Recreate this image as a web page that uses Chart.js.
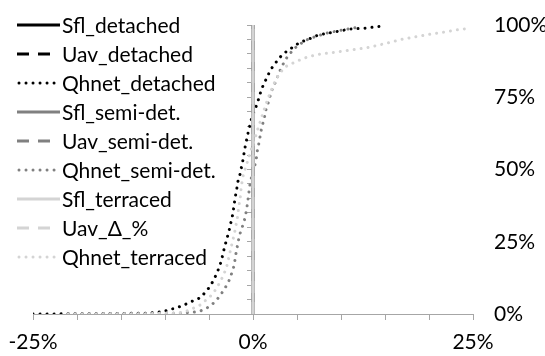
<!DOCTYPE html>
<html>
<head>
<meta charset="utf-8">
<script src="https://cdn.jsdelivr.net/npm/chart.js@4.4.1/dist/chart.umd.min.js"></script>
<style>
  html, body { margin: 0; padding: 0; background: #fff; }
  #wrap { width: 545px; height: 356px; }
</style>
</head>
<body>
<div id="wrap"><canvas id="c" width="545" height="356"></canvas></div>
<script>
// ---- data (x = Δ %, y = cumulative share %) ----
const seriesLabels = ['Sfl_detached', 'Uav_detached', 'Qhnet_detached',
  'Sfl_semi-det.', 'Uav_semi-det.', 'Qhnet_semi-det.',
  'Sfl_terraced', 'Uav_Δ_%', 'Qhnet_terraced'];

// Sfl and Uav series: zero difference everywhere (vertical line at 0)
const zeroX = [0, 0];
const zeroY = [0, 100];

const qhnetDetachedX = [-25, -18, -12, -10.2, -9.6, -8.86, -8.1, -7.42, -6.78, -6.0, -5.45, -4.97, -4.51, -4.17, -3.86, -3.6, -3.41, -3.22, -2.99, -2.76, -2.58, -2.39, -2.24, -2.13, -2.01, -1.85, -1.74, -1.5, -1.14, -0.88, -0.53, -0.15, 0.49, 0.94, 1.25, 1.63, 1.97, 2.47, 2.95, 3.52, 4.2, 4.85, 5.53, 6.25, 7.39, 9.43, 11.0, 12.7, 14.35];
const qhnetDetachedY = [0, 0.1, 0.3, 0.8, 1.4, 2.0, 2.8, 3.7, 4.6, 5.6, 7.4, 9.2, 11.5, 13.7, 16.0, 18.3, 20.9, 23.3, 25.8, 28.3, 30.8, 33.1, 35.7, 38.2, 40.6, 43.1, 45.6, 48.0, 53.3, 58.1, 63.1, 67.8, 72.9, 77.5, 79.8, 82.1, 84.4, 86.5, 88.5, 90.2, 91.6, 93.1, 94.2, 95.0, 96.5, 97.7, 98.6, 98.9, 99.5];

const qhnetSemiX = [-21, -12, -8.5, -6.78, -6.0, -5.26, -4.51, -4.06, -3.56, -3.1, -2.73, -2.42, -2.16, -1.93, -1.59, -1.36, -1.06, -0.88, -0.72, -0.6, -0.49, -0.4, -0.25, 0.2, 0.38, 0.49, 0.65, 0.8, 0.94, 1.14, 1.33, 1.48, 1.67, 1.82, 2.08, 2.27, 2.65, 2.92, 3.33, 3.64, 4.17, 4.58, 5.9, 7.1, 8.5, 10.6, 12.3];
const qhnetSemiY = [0, 0.1, 0.3, 0.6, 1.0, 2.0, 3.7, 5.1, 7.2, 9.4, 11.5, 14.1, 16.6, 21.0, 26.5, 29.0, 31.4, 33.7, 36.3, 38.9, 41.4, 43.8, 46.4, 51.3, 53.9, 56.4, 58.8, 61.3, 63.7, 66.2, 68.5, 70.8, 72.3, 74.3, 76.6, 78.7, 80.7, 83.3, 85.8, 87.9, 89.9, 91.6, 94.6, 96.0, 97.3, 98.5, 99.4];

const qhnetTerracedX = [-21, -12, -8.3, -7.53, -6.78, -6.0, -5.34, -4.69, -4.13, -3.67, -3.3, -2.99, -2.81, -2.65, -2.47, -2.27, -2.08, -1.93, -1.78, -1.67, -1.56, -1.44, -1.36, -1.25, -1.1, -0.8, -0.5, -0.15, 0.25, 0.6, 0.94, 1.3, 1.7, 2.1, 2.5, 3.0, 3.7, 4.85, 5.5, 6.25, 7.1, 8.0, 8.9, 11.0, 12.9, 15.2, 17.0, 18.6, 20.1, 21.6, 23.1, 24.7];
const qhnetTerracedY = [0, 0.1, 0.45, 1.0, 2.0, 3.1, 4.8, 6.6, 8.9, 11.5, 13.8, 16.4, 18.7, 20.9, 23.3, 25.8, 28.3, 30.8, 33.1, 35.7, 38.2, 40.6, 43.1, 45.6, 48.1, 51, 54, 57.5, 61, 64.5, 67.7, 71, 74.6, 77.5, 80.5, 83.2, 85.6, 87.3, 88.1, 89, 89.6, 90.1, 90.4, 91.3, 92.1, 93.7, 95.1, 96.0, 96.8, 97.5, 98.3, 98.9];

const xTickLabels = [-25, 0, 25];
const yTickLabels = [0, 25, 50, 75, 100];

// ---- styles ----
const BLACK = '#000000', GRAY = '#808080', LIGHT = '#d4d4d4';
const FONT = 'Lato';
const FONT_SIZE = 21;
const SOLID = [], DASH = [12, 9], DOT = [0.01, 7];

function pts(xs, ys) { return xs.map((x, i) => ({ x: x, y: ys[i] })); }

const seriesData = [
  pts(zeroX, zeroY), pts(zeroX, zeroY), pts(qhnetDetachedX, qhnetDetachedY),
  pts(zeroX, zeroY), pts(zeroX, zeroY), pts(qhnetSemiX, qhnetSemiY),
  pts(zeroX, zeroY), pts(zeroX, zeroY), pts(qhnetTerracedX, qhnetTerracedY)
];
const colors = [BLACK, BLACK, BLACK, GRAY, GRAY, GRAY, LIGHT, LIGHT, LIGHT];
const dashes = [SOLID, DASH, DOT, SOLID, DASH, DOT, SOLID, DASH, DOT];

const datasets = seriesLabels.map((lab, i) => ({
  label: lab,
  data: seriesData[i],
  borderColor: colors[i],
  backgroundColor: colors[i],
  borderWidth: 3,
  borderDash: dashes[i],
  borderCapStyle: dashes[i] === DOT ? 'round' : 'butt',
  showLine: true,
  pointRadius: 0,
  pointHoverRadius: 0,
  fill: false,
  tension: 0,
  order: seriesLabels.length - 1 - i
}));

const sideLegend = {
  id: 'sideLegend',
  afterDraw(chart) {
    const ctx = chart.ctx;
    const top = 25, step = 29;
    chart.data.datasets.forEach((ds, i) => {
      const y = top + i * step;
      ctx.save();
      ctx.strokeStyle = ds.borderColor;
      ctx.lineWidth = ds.borderWidth;
      ctx.setLineDash(ds.borderDash);
      ctx.lineCap = ds.borderCapStyle;
      ctx.beginPath();
      const isDot = ds.borderDash === DOT, isDash = ds.borderDash === DASH;
      const x0 = isDot ? 19 : 17;
      const x1 = isDot ? 56 : (isDash ? 55 : 60);
      ctx.moveTo(x0, y);
      ctx.lineTo(x1, y);
      ctx.stroke();
      ctx.setLineDash([]);
      ctx.fillStyle = '#000';
      ctx.font = FONT_SIZE + 'px ' + FONT;
      ctx.textBaseline = 'middle';
      ctx.textAlign = 'left';
      ctx.fillText(ds.label, 62, y + 1);
      ctx.restore();
    });
  }
};

new Chart(document.getElementById('c'), {
  type: 'scatter',
  data: { datasets: datasets },
  plugins: [sideLegend],
  options: {
    responsive: false,
    animation: false,
    layout: { padding: { left: 33, top: 25, right: 0, bottom: 0 } },
    plugins: { legend: { display: false }, tooltip: { enabled: false } },
    scales: {
      x: {
        type: 'linear', min: -25, max: 25,
        afterFit: s => { s.height = 42; s.paddingLeft = 0; s.paddingRight = 0; },
        ticks: {
          stepSize: 5, autoSkip: false, maxRotation: 0, padding: 10,
          color: '#000', font: { family: FONT, size: FONT_SIZE },
          callback: v => (xTickLabels.includes(v) ? v + '%' : '')
        },
        grid: { drawOnChartArea: false, drawTicks: true, tickLength: 6, color: '#a6a6a6' },
        border: { display: true, color: '#a6a6a6', width: 1 }
      },
      y: {
        type: 'linear', min: 0, max: 100,
        position: { x: 0 },
        afterFit: s => { s.paddingTop = 0; s.paddingBottom = 0; },
        ticks: { display: false, stepSize: 5 },
        grid: { drawOnChartArea: false, drawTicks: true, tickLength: 6, color: '#a6a6a6' },
        border: { display: true, color: '#a6a6a6', width: 1 }
      },
      y2: {
        type: 'linear', min: 0, max: 100, position: 'right',
        afterFit: s => { s.width = 72; s.paddingTop = 0; s.paddingBottom = 0; },
        ticks: {
          stepSize: 25, padding: 21, color: '#000',
          font: { family: FONT, size: FONT_SIZE },
          callback: v => (yTickLabels.includes(v) ? v + '%' : '')
        },
        grid: { display: false, drawTicks: false },
        border: { display: false }
      }
    }
  }
});
</script>
</body>
</html>
